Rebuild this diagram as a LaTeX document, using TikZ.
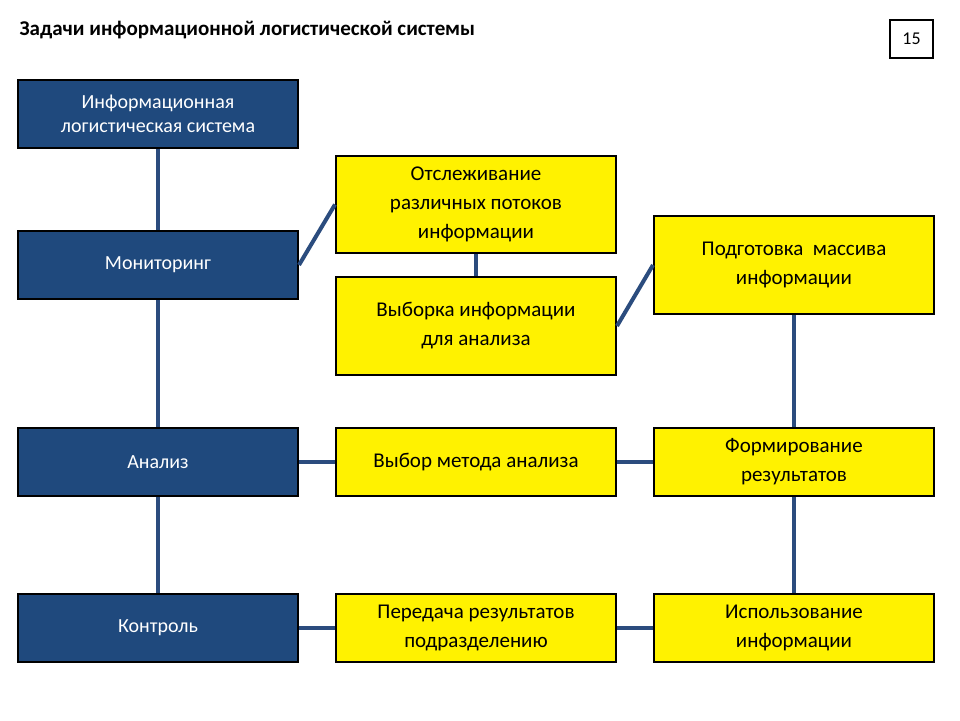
\documentclass[tikz,border=0pt]{standalone}
\usepackage{fontspec}
\setmainfont{Carlito}
\begin{document}
\begin{tikzpicture}[x=1pt,y=-1pt,
  blue/.style={draw=black,fill=bl,line width=2pt,text=white,font=\fontsize{20}{24}\selectfont,align=center,inner sep=0pt},
  yel/.style={draw=black,fill=yellow,line width=2pt,text=black,font=\fontsize{21}{29}\selectfont,align=center,inner sep=0pt},
  conn/.style={draw=ln,line width=4pt}]
\definecolor{bl}{HTML}{1F497D}
\definecolor{ln}{HTML}{2B4C7E}
\useasboundingbox (0,0) rectangle (960,720);
\fill[white] (0,0) rectangle (960,720);
\node[anchor=west,font=\fontsize{21}{25}\selectfont\bfseries] (title) at (16,30) {Задачи информационной логистической системы};
\node[draw=black,line width=2pt,minimum width=43pt,minimum height=38pt,inner sep=0pt,font=\fontsize{18}{20}\selectfont] (num) at (911.5,39) {15};
% blue
\node[blue,minimum width=280pt,minimum height=68pt] (ils) at (158,114) {Информационная\\логистическая система};
\node[blue,minimum width=280pt,minimum height=68pt] (mon) at (158,265) {Мониторинг};
\node[blue,minimum width=280pt,minimum height=68pt] (an) at (158,462) {Анализ};
\node[blue,minimum width=280pt,minimum height=68pt] (ko) at (158,628) {Контроль};
% yellow
\node[yel,minimum width=280pt,minimum height=97pt] (ots) at (476,204.5) {Отслеживание\\различных потоков\\информации};
\node[yel,minimum width=280pt,minimum height=98pt] (vyb) at (476,326) {Выборка информации\\для анализа};
\node[yel,minimum width=280pt,minimum height=68pt] (met) at (476,462) {Выбор метода анализа};
\node[yel,minimum width=280pt,minimum height=68pt] (per) at (476,628) {Передача результатов\\подразделению};
\node[yel,minimum width=280pt,minimum height=98pt] (pod) at (794,265) {Подготовка\ \ массива\\информации};
\node[yel,minimum width=280pt,minimum height=68pt] (for) at (794,462) {Формирование\\результатов};
\node[yel,minimum width=280pt,minimum height=68pt] (isp) at (794,628) {Использование\\информации};
\draw[conn] (ils.south) -- (mon.north);
\draw[conn] (mon.south) -- (an.north);
\draw[conn] (an.south) -- (ko.north);
\draw[conn] (mon.east) -- (ots.west);
\draw[conn] (ots.south) -- (vyb.north);
\draw[conn] (vyb.east) -- (pod.west);
\draw[conn] (pod.south) -- (for.north);
\draw[conn] (for.south) -- (isp.north);
\draw[conn] (an.east) -- (met.west);
\draw[conn] (met.east) -- (for.west);
\draw[conn] (ko.east) -- (per.west);
\draw[conn] (per.east) -- (isp.west);
\end{tikzpicture}
\end{document}
